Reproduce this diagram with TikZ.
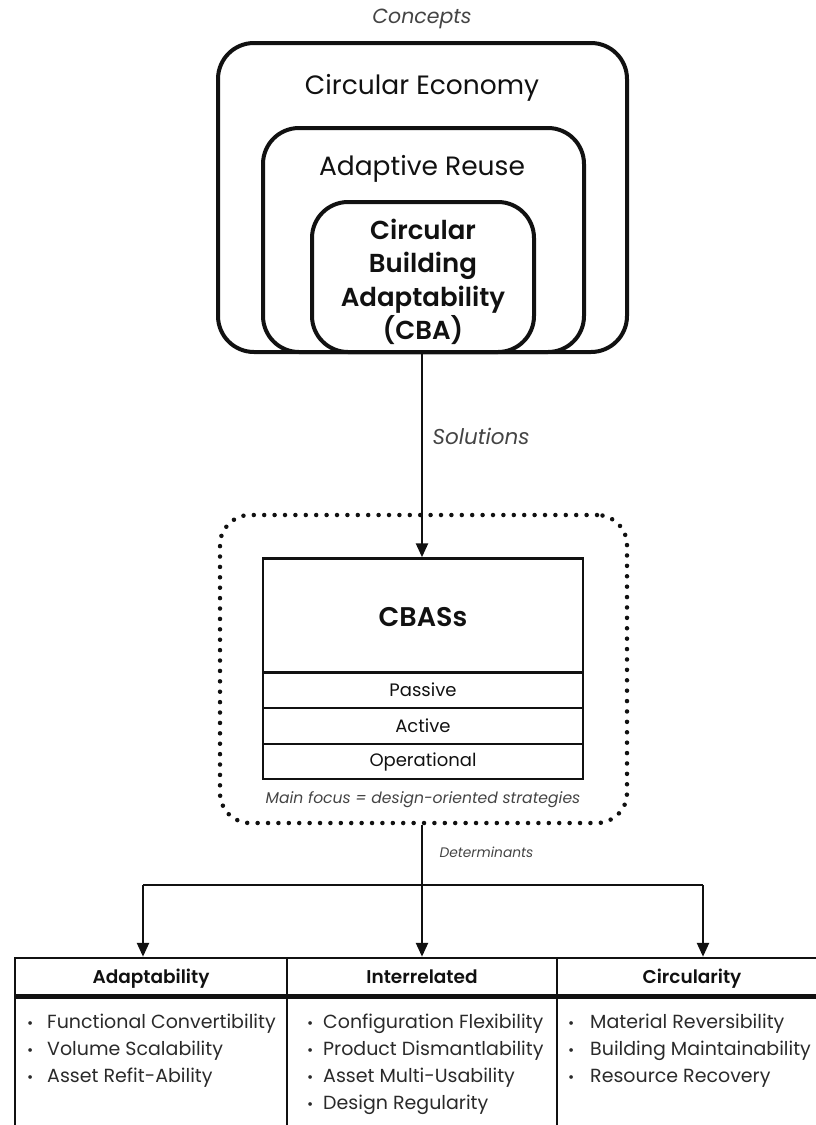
\documentclass[tikz,border=0pt]{standalone}
\usepackage{fontspec}
\setmainfont{Poppins}[BoldFont={Poppins SemiBold},BoldItalicFont={Poppins SemiBold Italic}]
\usetikzlibrary{arrows.meta}
\definecolor{ink}{HTML}{111111}
\definecolor{soft}{HTML}{444444}
\definecolor{bodytext}{HTML}{2A2A2A}
\newcommand{\dotitem}[1]{\makebox[#1][l]{\fontsize{15}{15}\selectfont•}}
\begin{document}
\begin{tikzpicture}[x=1pt,y=-1pt,
  frame/.style={draw=ink, line width=4pt, rounded corners=36pt, inner sep=0pt},
  cell/.style={draw=ink, line width=2.5pt, inner sep=0pt},
  flow/.style={draw=ink, line width=2.5pt, -{Triangle[width=12pt,length=14pt]}},
  plain/.style={draw=ink, line width=2.5pt},
  title/.style={font=\fontsize{26.5}{30}\selectfont, text=ink},
  tag/.style={font=\fontsize{20.5}{24}\selectfont\itshape, text=soft},
  entry/.style={font=\fontsize{18}{22}\selectfont, text=ink},
  head/.style={font=\fontsize{18.5}{22}\selectfont\bfseries, text=ink, anchor=base},
  items/.style={font=\fontsize{19}{27}\selectfont, text=bodytext, align=left, anchor=north west, inner sep=0pt},
]
\useasboundingbox (0,0) rectangle (816,1125);

% nested concept frames sharing one bottom edge
\node[frame, minimum width=409pt, minimum height=309pt] (ce) at (422.5,197.5) {};
\node[frame, minimum width=321pt, minimum height=224pt] (ar) at (423.5,240) {};
\node[frame, minimum width=222pt, minimum height=150pt] (cba) at (423,277) {};

\node[tag] (concepts) at (422,19) {Concepts};
\node[title] (cetext) at (422,88) {Circular Economy};
\node[title] (artext) at (422,169) {Adaptive Reuse};
\node[font=\fontsize{26}{33.3}\selectfont\bfseries, text=ink, align=center] (cbatext) at (423,282)
  {Circular\\Building\\Adaptability\\(CBA)};

% solutions: the CBAS stack inside a dotted boundary
\node[draw=ink, line width=4.5pt, dash pattern=on 0pt off 10.4pt, line cap=round,
      rounded corners=30pt, minimum width=407pt, minimum height=308pt] (focus) at (423.5,669) {};

\node[cell, minimum width=320pt, minimum height=114pt] (cbas) at (423,615.5) {};
\node[cell, minimum width=320pt, minimum height=36pt] (passive) at (423,690) {};
\node[cell, minimum width=320pt, minimum height=36pt] (active) at (423,726) {};
\node[cell, minimum width=320pt, minimum height=35pt] (operational) at (423,761.5) {};

\node[font=\fontsize{27}{30}\selectfont\bfseries, text=ink] (cbaslabel) at (423,617) {CBASs};
\node[entry] at (passive) {Passive};
\node[entry] at (active) {Active};
\node[entry] at (operational) {Operational};
\node[font=\fontsize{15.6}{18}\selectfont\itshape, text=soft] (focusnote) at (423,800)
  {Main focus = design-oriented strategies};

\draw[flow] (cba.south -| 422,0) -- (cbas.north -| 422,0);
\node[tag, font=\fontsize{21.5}{24}\selectfont\itshape, anchor=west] (solutions) at (429,436) {Solutions};

% determinants table
\node[cell, minimum width=272pt, minimum height=37pt] (h1) at (151,976.5) {};
\node[cell, minimum width=270pt, minimum height=37pt] (h2) at (422,976.5) {};
\node[cell, minimum width=270pt, minimum height=37pt] (h3) at (692,976.5) {};
\node[cell, minimum width=272pt, minimum height=160pt, anchor=north] (b1) at (h1.south) {};
\node[cell, minimum width=270pt, minimum height=160pt, anchor=north] (b2) at (h2.south) {};
\node[cell, minimum width=270pt, minimum height=160pt, anchor=north] (b3) at (h3.south) {};

\node[head] at (151,983) {Adaptability};
\node[head] at (422,983) {Interrelated};
\node[head] at (692,983) {Circularity};

\node[items] (l1) at (27,1014) {%
  \dotitem{20pt}Functional Convertibility\\
  \dotitem{20pt}Volume Scalability\\
  \dotitem{20pt}Asset Refit-Ability};
\node[items] (l2) at (307,1014) {%
  \dotitem{16pt}Configuration Flexibility\\
  \dotitem{16pt}Product Dismantlability\\
  \dotitem{16pt}Asset Multi-Usability\\
  \dotitem{16pt}Design Regularity};
\node[items] (l3) at (568,1014) {%
  \dotitem{22pt}Material Reversibility\\
  \dotitem{22pt}Building Maintainability\\
  \dotitem{22pt}Resource Recovery};

% branching connectors
\coordinate (j1) at (143,885);
\coordinate (j2) at (422,885);
\coordinate (j3) at (703,885);
\draw[plain] (focus.south -| j2) -- (j2);
\draw[plain] (j1) -- (j3);
\draw[flow] (j1) -- (j1 |- h1.north);
\draw[flow] (j2) -- (j2 |- h2.north);
\draw[flow] (j3) -- (j3 |- h3.north);
\node[font=\fontsize{13.8}{16}\selectfont\itshape, text=soft, anchor=west] (determinants) at (436,852) {Determinants};
\end{tikzpicture}
\end{document}
